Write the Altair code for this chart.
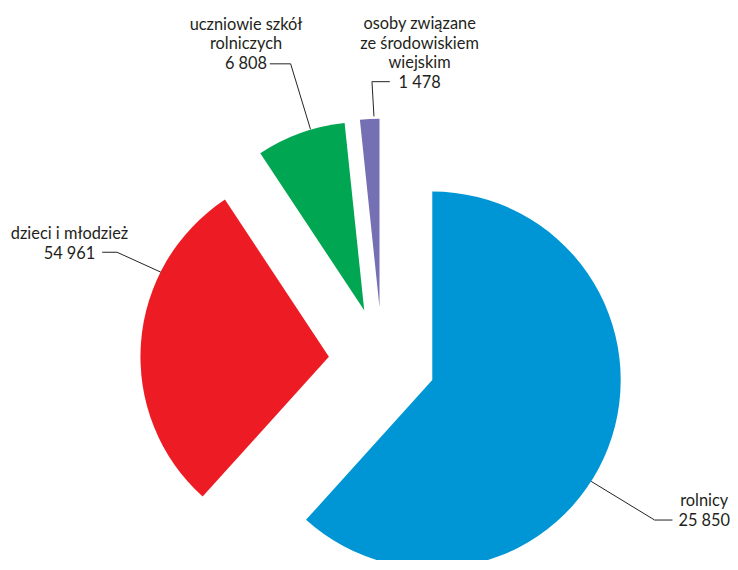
import altair as alt
import pandas as pd

# ---- data ----
categories = [
    "rolnicy",
    "dzieci i młodzież",
    "uczniowie szkół rolniczych",
    "osoby związane ze środowiskiem wiejskim",
]
values = [54961, 25850, 6808, 1478]          # slice sizes, clockwise from 12 o'clock
value_labels = ["25 850", "54 961", "6 808", "1 478"]   # numbers as printed
name_lines = [
    ["rolnicy"],
    ["dzieci i młodzież"],
    ["uczniowie szkół", "rolniczych"],
    ["osoby związane", "ze środowiskiem", "wiejskim"],
]
colors = ["#0096d6", "#ed1c24", "#00a651", "#7570b3"]

# ---- layout (pixels in the plot area) ----
CX, CY = 377.4, 353.4     # centre of the un-exploded pie
R = 190                   # radius
EXPLODE = 54              # distance each slice is pulled out
FONT = "Lato"
FSIZE = 16.5
TXT = "#231f20"

# label block: centre x and first baseline y, line spacing
label_anchor = [(702, 500.3), (62, 231), (240, 19.5), (415, 19)]
LINE_H = 19.7
# leader polylines per slice
leaders = [
    [(670, 514), (652, 514), (588, 475)],
    [(95, 244), (110, 244), (154, 264)],
    [(264, 54), (285, 54), (305, 120)],
    [(385, 72), (367, 72), (369, 107)],
]

pie_df = pd.DataFrame({"category": categories, "value": values, "order": range(len(values))})

pie = (
    alt.Chart(pie_df)
    .transform_window(cum="sum(value)", sort=[alt.SortField("order")], frame=[None, 0])
    .transform_joinaggregate(total="sum(value)")
    .transform_calculate(
        t0="2*PI*(datum.cum - datum.value)/datum.total",
        t1="2*PI*datum.cum/datum.total",
    )
    .transform_calculate(mid="(datum.t0 + datum.t1)/2")
    .transform_calculate(
        cx=f"{CX} + {EXPLODE}*sin(datum.mid)",
        cy=f"{CY} - {EXPLODE}*cos(datum.mid)",
    )
    .mark_arc(radius=R, stroke=None)
    .encode(
        theta=alt.Theta("t0:Q", scale=None, stack=False),
        theta2=alt.Theta2("t1:Q"),
        x=alt.X("cx:Q", scale=None, axis=None),
        y=alt.Y("cy:Q", scale=None, axis=None),
        color=alt.Color("category:N", scale=alt.Scale(domain=categories, range=colors), legend=None),
    )
)

text_rows = []
for i in range(len(categories)):
    lines = name_lines[i] + [value_labels[i]]
    ax, ay = label_anchor[i]
    for j, t in enumerate(lines):
        text_rows.append({"x": ax, "y": ay + j * LINE_H, "text": t})
text_df = pd.DataFrame(text_rows)

seg_rows = []
for pts in leaders:
    for (a, b) in zip(pts[:-1], pts[1:]):
        seg_rows.append({"x": a[0], "y": a[1], "x2": b[0], "y2": b[1]})
seg_df = pd.DataFrame(seg_rows)

texts = (
    alt.Chart(text_df)
    .mark_text(font=FONT, fontSize=FSIZE, color=TXT, align="center", baseline="alphabetic")
    .encode(
        x=alt.X("x:Q", scale=None, axis=None),
        y=alt.Y("y:Q", scale=None, axis=None),
        text="text:N",
    )
)

lines = (
    alt.Chart(seg_df)
    .mark_rule(color=TXT, strokeWidth=1)
    .encode(
        x=alt.X("x:Q", scale=None, axis=None),
        y=alt.Y("y:Q", scale=None, axis=None),
        x2="x2:Q",
        y2="y2:Q",
    )
)

chart = (
    alt.layer(pie, lines, texts)
    .properties(width=728, height=552, padding=0, autosize="none")
    .configure_view(stroke=None)
)

chart.save("out.html", embed_options={"renderer": "svg", "actions": False})
